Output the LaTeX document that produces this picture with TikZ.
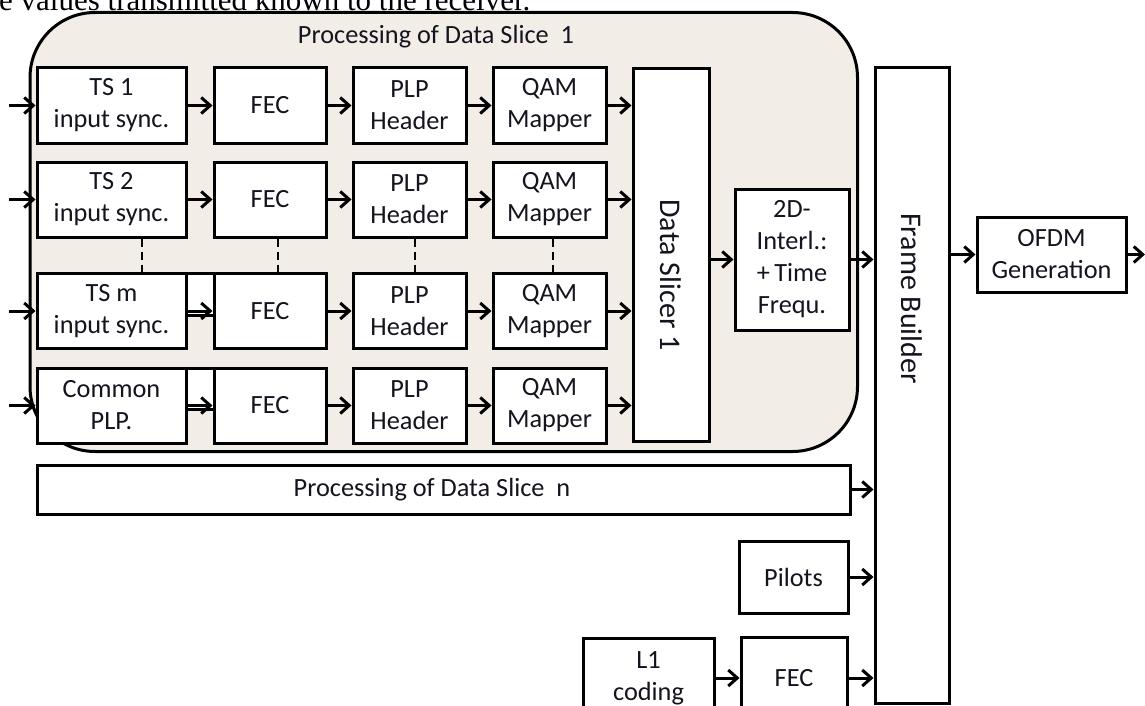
\documentclass[tikz,border=0pt]{standalone}
\usepackage{fontspec}
\setmainfont{Carlito}
\newfontfamily\pageserif{Liberation Serif}
\usetikzlibrary{arrows.meta}
\definecolor{slicefill}{HTML}{F2EDE7}
\definecolor{txt}{HTML}{14141F}

\begin{document}
\begin{tikzpicture}[x=1pt,y=-1pt,
  blk/.style={draw,line width=3pt,fill=white,inner sep=0pt,align=center,
    minimum height=75pt,text=txt,font=\fontsize{26.3}{32}\selectfont},
  lbl/.style={text=txt,inner sep=0pt,font=\fontsize{26.3}{32}\selectfont},
  vlbl/.style={text=txt,inner sep=0pt,rotate=-90,font=\fontsize{30}{36}\selectfont},
  arr/.style={line width=3pt,-{Straight Barb[length=9pt,width=16pt]}},
  dots/.style={line width=2pt,dash pattern=on 8pt off 5pt}]
\useasboundingbox (0,0) rectangle (1145,706);

\node[anchor=base west,inner sep=0pt,font=\pageserif\fontsize{31}{36}\selectfont] (pagetext) at (-1,10.5) {e values transmitted known to the receiver.};

% data slice 1
\draw[line width=3pt,fill=slicefill,rounded corners=65pt] (30,12.5) rectangle (857.5,451.5);
\node[lbl] (slicetitle) at (436,37) {Processing of Data Slice\ \ 1};

\draw[line width=3pt,fill=white] (150,273) rectangle (214,315);
\draw[line width=3pt,fill=white] (150,368) rectangle (214,409.5);

\foreach \r/\y/\ts in {1/105.5/{TS 1\\input sync.},2/199.5/{TS 2\\input sync.},m/311/{TS m\\input sync.},c/405.5/{Common\\PLP.}}{
  \node[blk,minimum width=149pt] (ts\r) at (111.5,\y) {\ts};
  \node[blk,minimum width=112pt] (fec\r) at (270,\y) {FEC};
  \node[blk,minimum width=113pt] (plp\r) at (409.5,\y) {PLP\\Header};
  \node[blk,minimum width=113pt] (qam\r) at (549.5,\y) {QAM\\Mapper};
}

\node[blk,minimum width=76pt,minimum height=373pt] (slicer) at (671,255) {};
\node[vlbl] (slicertext) at ([yshift=-20pt]slicer.center) {Data Slicer 1};
\node[blk,minimum width=114pt,minimum height=141pt] (intl) at (792,259.5) {2D-\\Interl.:\\+\,Time\\Frequ.};

\node[blk,minimum width=74pt,minimum height=635pt] (frame) at (912,385.5) {};
\node[vlbl] (frametext) at ([yshift=87pt]frame.center) {Frame Builder};
\node[blk,minimum width=149pt] (ofdm) at (1051.5,254.5) {OFDM\\Generation};

\node[blk,minimum width=813pt,minimum height=49pt] (slicen) at (443.5,489.5) {Processing of Data Slice\ \ n\hspace*{23pt}};
\node[blk,minimum width=109pt,minimum height=72pt] (pilots) at (793.5,577) {Pilots};
\node[blk,minimum width=131pt,minimum height=80pt] (lone) at (648.5,678) {L1\\coding};
\node[blk,minimum width=106pt,minimum height=82pt] (fecl) at (794,678) {FEC};

% connections
\foreach \r in {1,2,m,c}{
  \draw[arr] ([xshift=-27pt]ts\r.west) -- (ts\r.west);
  \draw[arr] (ts\r) -- (fec\r);
  \draw[arr] (fec\r) -- (plp\r);
  \draw[arr] (plp\r) -- (qam\r);
  \draw[arr] (qam\r.east) -- (qam\r.east -| slicer.west);
}
\foreach \col/\s in {ts/30.5,fec/8,plp/5.5,qam/3.5}
\draw[dots] ([xshift=\s pt]\col2.south) -- ([xshift=\s pt]\col m.north);

\draw[arr] (slicer.east |- intl.west) -- (intl.west);
\draw[arr] (intl.east) -- (intl.east -| frame.west);
\draw[arr] (slicen.east) -- (slicen.east -| frame.west);
\draw[arr] (pilots.east) -- (pilots.east -| frame.west);
\draw[arr] (lone) -- (fecl);
\draw[arr] (fecl.east) -- (fecl.east -| frame.west);
\draw[arr] (ofdm.west -| frame.east) -- (ofdm.west);
\coordinate (out) at (1145,254.5);
\draw[arr] (ofdm.east) -- (out);
\end{tikzpicture}
\end{document}
